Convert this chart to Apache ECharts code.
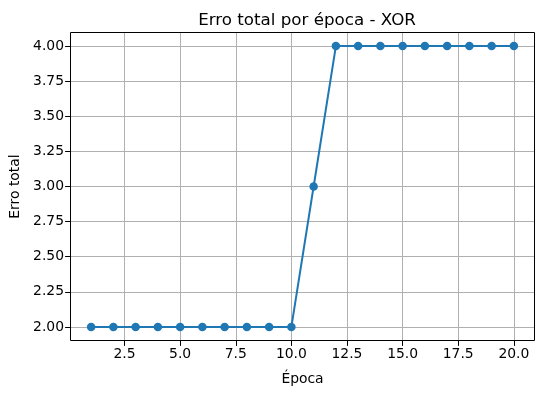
<!DOCTYPE html>
<html><head><meta charset="utf-8">
<script src="https://cdn.jsdelivr.net/npm/echarts@6/dist/echarts.min.js"></script>
<style>html,body{margin:0;padding:0;background:#fff}#c{width:544px;height:396px}</style>
</head><body><div id="c"></div>
<script>
const epochs = [1,2,3,4,5,6,7,8,9,10,11,12,13,14,15,16,17,18,19,20];
const totalError = [2,2,2,2,2,2,2,2,2,2,3,4,4,4,4,4,4,4,4,4];
const xTicks = [2.5,5.0,7.5,10.0,12.5,15.0,17.5,20.0];
const yTicks = [2.00,2.25,2.50,2.75,3.00,3.25,3.50,3.75,4.00];
const titleText = 'Erro total por época - XOR';
const xName = 'Época';
const yName = 'Erro total';

const font = 'DejaVu Sans';
const chart = echarts.init(document.getElementById('c'), null, {renderer:'canvas'});
chart.setOption({
  animation:false,
  backgroundColor:'#fff',
  title:{text:titleText,left:302,top:7,textAlign:'center',
    textStyle:{fontFamily:font,fontSize:16.7,fontWeight:'normal',color:'#000'}},
  grid:{left:70,right:9,top:32,bottom:55,containLabel:false,outerBoundsMode:'none'},
  xAxis:{type:'value',min:0.05,max:20.95,
    name:xName,nameLocation:'middle',nameGap:31,
    nameTextStyle:{fontFamily:font,fontSize:13.9,color:'#000'},
    axisLine:{show:false,onZero:false},
    axisTick:{show:true,length:4.9,customValues:xTicks,lineStyle:{color:'#000',width:1}},
    axisLabel:{customValues:xTicks,margin:6,fontFamily:font,fontSize:13.9,color:'#000',
      formatter:v=>v.toFixed(1)},
    splitLine:{show:true,lineStyle:{color:'#b0b0b0',width:1}}
  },
  yAxis:{type:'value',min:1.9,max:4.1,
    name:yName,nameLocation:'middle',nameGap:43,nameRotate:90,
    nameTextStyle:{fontFamily:font,fontSize:13.9,color:'#000'},
    axisLine:{show:false,onZero:false},
    axisTick:{show:true,length:4.9,customValues:yTicks,lineStyle:{color:'#000',width:1}},
    axisLabel:{customValues:yTicks,margin:6,fontFamily:font,fontSize:13.9,color:'#000',
      formatter:v=>v.toFixed(2)},
    splitLine:{show:true,lineStyle:{color:'#b0b0b0',width:1}}
  },
  graphic:[{type:'rect',shape:{x:70.5,y:32.5,width:464,height:308},
    style:{fill:null,stroke:'#000',lineWidth:1},z:100,silent:true}],
  series:[{type:'line',data:epochs.map((e,i)=>[e,totalError[i]]),
    symbol:'circle',symbolSize:8.5,showAllSymbol:true,
    lineStyle:{color:'#1f77b4',width:2},itemStyle:{color:'#1f77b4'},z:10}]
});
</script></body></html>
